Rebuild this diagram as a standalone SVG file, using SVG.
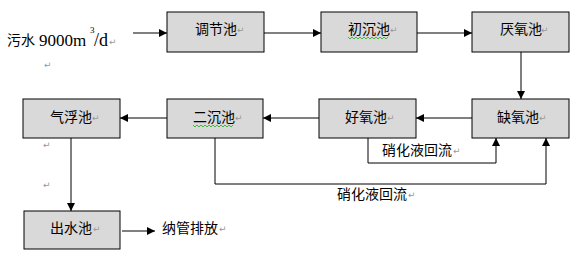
<svg xmlns="http://www.w3.org/2000/svg" width="578" height="259" viewBox="0 0 578 259">
<style>
.box{fill:#d9d9d9;stroke:#000;stroke-width:1}
.t{font-family:"Noto Sans CJK SC","Liberation Sans",sans-serif;font-size:14px;fill:#000}
.pm{font-family:"DejaVu Sans",sans-serif;font-size:9px;fill:#999}
.g{fill:none;stroke:#808080;stroke-width:2}
.k{fill:none;stroke:#000;stroke-width:1}
.m{fill:none;stroke:#555;stroke-width:1.5}
.sq{fill:none;stroke:#2a2;stroke-width:0.8}
</style>
<defs>
<marker id="ah" markerUnits="userSpaceOnUse" markerWidth="8" markerHeight="8" refX="8" refY="4" orient="auto">
<path d="M0,0 L8,4 L0,8 z" fill="#000"/>
</marker>
</defs>
<rect width="578" height="259" fill="#fff"/>
<g id="connectors">
<path class="g" d="M133,33 L167,33" marker-end="url(#ah)"/>
<path class="g" d="M264,33 L321,33" marker-end="url(#ah)"/>
<path class="g" d="M417,33 L472,33" marker-end="url(#ah)"/>
<path class="m" d="M521,52 L521,99" marker-end="url(#ah)"/>
<path class="m" d="M472,118 L416,118" marker-end="url(#ah)"/>
<path class="m" d="M319,118 L263,118" marker-end="url(#ah)"/>
<path class="m" d="M167,118 L120,118" marker-end="url(#ah)"/>
<path class="k" d="M368,138 V163 H496 V138" marker-end="url(#ah)"/>
<path class="k" d="M215,138 V184 H546 V138" marker-end="url(#ah)"/>
<path class="k" d="M71,138 V211" marker-end="url(#ah)"/>
<path class="g" d="M122,231 L155,231" marker-end="url(#ah)"/>
</g>
<g id="input">
<text class="t" x="7" y="45">污水</text>
<text x="39" y="46" font-family="Liberation Serif,serif" font-size="17">9000m</text>
<text x="90" y="33" font-family="Liberation Serif,serif" font-size="9">3</text>
<text x="94" y="46" font-family="Liberation Serif,serif" font-size="18">/d</text>
<text class="pm" x="109" y="45">↵</text>
<text class="pm" x="44" y="68">↵</text>
</g>
<g id="n1"><rect class="box" x="167" y="12" width="97" height="40"/><text class="t" x="195" y="34">调节池</text><text class="pm" x="237" y="33">↵</text></g>
<g id="n2"><rect class="box" x="321" y="12" width="96" height="40"/><text class="t" x="348" y="34">初沉池</text><text class="pm" x="390" y="33">↵</text><path class="sq" d="M348,37 l2,2 l2,-2 l2,2 l2,-2 l2,2 l2,-2 l2,2 l2,-2 l2,2 l2,-2 l2,2 l2,-2 l2,2 l2,-2 l2,2 l2,-2 l2,2 l2,-2 l2,2 l2,-2"/></g>
<g id="n3"><rect class="box" x="472" y="12" width="97" height="40"/><text class="t" x="500" y="34">厌氧池</text><text class="pm" x="541" y="33">↵</text></g>
<g id="n4"><rect class="box" x="472" y="99" width="97" height="39"/><text class="t" x="497" y="122">缺氧池</text><text class="pm" x="539" y="121">↵</text></g>
<g id="n5"><rect class="box" x="319" y="99" width="97" height="39"/><text class="t" x="345" y="122">好氧池</text><text class="pm" x="387" y="121">↵</text></g>
<g id="n6"><rect class="box" x="167" y="99" width="96" height="39"/><text class="t" x="193" y="122">二沉池</text><text class="pm" x="235" y="121">↵</text><path class="sq" d="M193,125 l2,2 l2,-2 l2,2 l2,-2 l2,2 l2,-2 l2,2 l2,-2 l2,2 l2,-2 l2,2 l2,-2 l2,2 l2,-2 l2,2 l2,-2 l2,2 l2,-2 l2,2 l2,-2"/></g>
<g id="n7"><rect class="box" x="23" y="99" width="97" height="39"/><text class="t" x="50" y="122">气浮池</text><text class="pm" x="92" y="121">↵</text></g>
<text class="pm" x="43" y="148">↵</text>
<text class="pm" x="43" y="188">↵</text>
<g id="n8"><rect class="box" x="24" y="211" width="96" height="38"/><text class="t" x="50" y="233">出水池</text><text class="pm" x="93" y="232">↵</text></g>
<g id="out"><text class="t" x="162" y="233">纳管排放</text><text class="pm" x="219" y="232">↵</text></g>
<g id="labels">
<text class="t" x="382" y="155">硝化液回流</text><text class="pm" x="453" y="154">↵</text>
<text class="t" x="337" y="199">硝化液回流</text><text class="pm" x="408" y="198">↵</text>
</g>
</svg>
